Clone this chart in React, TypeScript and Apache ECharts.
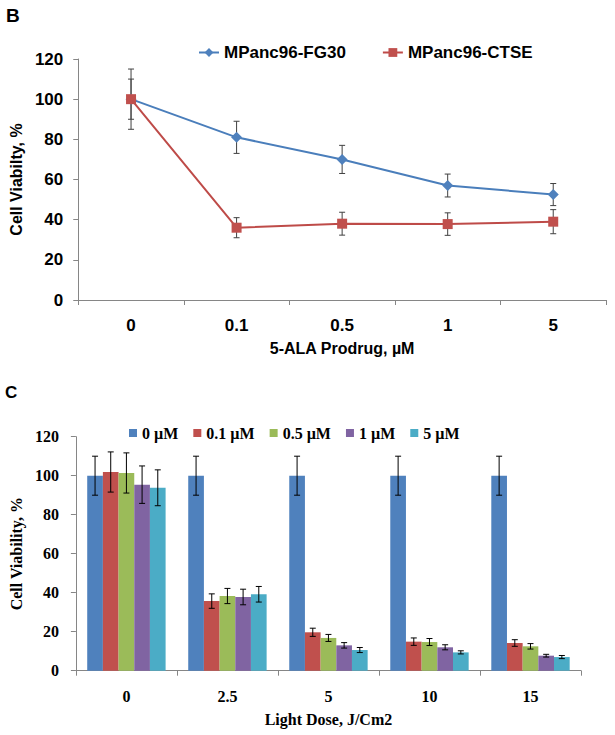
import React, { useEffect, useRef } from "react";
import * as echarts from "echarts";

// Panel B
const doseB = ["0", "0.1", "0.5", "1", "5"];
const fg30 = [100, 81, 70, 57, 52.5];
const fg30Err = [15, 8, 7, 5.7, 5.5];
const ctse = [100, 36, 38, 37.8, 39];
const ctseErr = [10, 5, 5.7, 5.6, 6];

// Panel C
const lightDose = ["0", "2.5", "5", "10", "15"];
const seriesC = ["0 µM", "0.1 µM", "0.5 µM", "1 µM", "5 µM"];
const c0 = [100, 100, 100, 100, 100];
const c0Err = [10, 10, 10, 10, 10];
const c01 = [101.9, 35.7, 19.7, 14.9, 14.2];
const c01Err = [10.3, 3.7, 2.1, 1.9, 1.7];
const c05 = [101.4, 38.3, 16.8, 14.7, 12.5];
const c05Err = [10.3, 3.9, 1.8, 1.8, 1.4];
const c1 = [95.4, 37.8, 13, 12, 7.7];
const c1Err = [9.6, 4, 1.4, 1.3, 0.7];
const c5 = [93.8, 39.2, 10.6, 9.4, 7.0];
const c5Err = [9.2, 4, 1.3, 0.8, 0.8];

const colorsC = ["#4F81BD", "#C0504D", "#9BBB59", "#8064A2", "#4BACC6"];
const valuesC = [c0, c01, c05, c1, c5];
const errorsC = [c0Err, c01Err, c05Err, c1Err, c5Err];

const SANS = "'Liberation Sans', Arial, sans-serif";
const SERIF = "'Liberation Serif', 'Times New Roman', serif";
const AXIS_GRAY = "#868686";
const BAR_CAT_GAP = 0.224;

function errSeriesB(vals: number[], errs: number[], color: string) {
  return {
    type: "custom",
    xAxisIndex: 0,
    yAxisIndex: 0,
    z: 1,
    silent: true,
    data: vals.map((v, i) => [i, v, errs[i]]),
    encode: { x: 0, y: 1 },
    renderItem: (params: any, api: any) => {
      const i = api.value(0);
      const v = api.value(1);
      const e = api.value(2);
      const top = api.coord([i, v + e]);
      const bot = api.coord([i, v - e]);
      const cw = 3;
      const st = { stroke: color, lineWidth: 1 };
      return {
        type: "group",
        children: [
          { type: "line", shape: { x1: top[0], y1: top[1], x2: bot[0], y2: bot[1] }, style: st },
          { type: "line", shape: { x1: top[0] - cw, y1: top[1], x2: top[0] + cw, y2: top[1] }, style: st },
          { type: "line", shape: { x1: bot[0] - cw, y1: bot[1], x2: bot[0] + cw, y2: bot[1] }, style: st },
        ],
      };
    },
  };
}

function errSeriesC(k: number) {
  const vals = valuesC[k];
  const errs = errorsC[k];
  return {
    type: "custom",
    xAxisIndex: 1,
    yAxisIndex: 1,
    z: 5,
    silent: true,
    data: vals.map((v, i) => [i, v, errs[i]]),
    encode: { x: 0, y: 1 },
    renderItem: (params: any, api: any) => {
      const i = api.value(0);
      const v = api.value(1);
      const e = api.value(2);
      const band = api.size([1, 0])[0];
      const bw = (band * (1 - BAR_CAT_GAP)) / 5;
      const off = (k - 2) * bw;
      const top = api.coord([i, v + e]);
      const bot = api.coord([i, v - e]);
      const x = top[0] + off;
      const cw = 3;
      const st = { stroke: "#000", lineWidth: 1 };
      return {
        type: "group",
        children: [
          { type: "line", shape: { x1: x, y1: top[1], x2: x, y2: bot[1] }, style: st },
          { type: "line", shape: { x1: x - cw, y1: top[1], x2: x + cw, y2: top[1] }, style: st },
          { type: "line", shape: { x1: x - cw, y1: bot[1], x2: x + cw, y2: bot[1] }, style: st },
        ],
      };
    },
  };
}

export default function App() {
  const ref = useRef<HTMLDivElement>(null);
  useEffect(() => {
    if (!ref.current) return;
    const chart = echarts.init(ref.current, null, { renderer: "svg" });
    const option: any = {
      animation: false,
      backgroundColor: "#ffffff",
      graphic: [
        { type: "text", left: 6, top: 6, style: { text: "B", font: `bold 19px ${SANS}`, fill: "#000" } },
        { type: "text", left: 5, top: 384, style: { text: "C", font: `bold 17px ${SANS}`, fill: "#000" } },
      ],
      legend: [
        {
          data: ["MPanc96-FG30", "MPanc96-CTSE"],
          left: 198,
          top: 44,
          padding: 0,
          itemWidth: 20,
          itemHeight: 11,
          itemGap: 36,
          textStyle: { fontFamily: SANS, fontWeight: "bold", fontSize: 17, color: "#000" },
        },
        {
          data: seriesC,
          left: 129,
          top: 425,
          padding: 0,
          icon: "rect",
          itemWidth: 8,
          itemHeight: 8,
          itemGap: 15,
          textStyle: { fontFamily: SERIF, fontWeight: "bold", fontSize: 16, color: "#000" },
        },
      ],
      grid: [
        { left: 77, right: 9, top: 59, bottom: 435, containLabel: false },
        { left: 72, right: 34, top: 436.7, bottom: 64.3, containLabel: false },
      ],
      xAxis: [
        {
          type: "category",
          gridIndex: 0,
          data: doseB,
          boundaryGap: true,
          axisLine: { lineStyle: { color: AXIS_GRAY, width: 1 } },
          axisTick: { show: true, length: 5, lineStyle: { color: AXIS_GRAY } },
          axisLabel: { margin: 17, fontFamily: SANS, fontWeight: "bold", fontSize: 17, color: "#000" },
          name: "5-ALA Prodrug, µM",
          nameLocation: "middle",
          nameGap: 40,
          nameTextStyle: { fontFamily: SANS, fontWeight: "bold", fontSize: 16, color: "#000" },
        },
        {
          type: "category",
          gridIndex: 1,
          data: lightDose,
          boundaryGap: true,
          axisLine: { lineStyle: { color: AXIS_GRAY, width: 1 } },
          axisTick: { show: true, length: 5, lineStyle: { color: AXIS_GRAY } },
          axisLabel: { margin: 18, fontFamily: SERIF, fontWeight: "bold", fontSize: 16, color: "#000" },
          name: "Light Dose, J/Cm2",
          nameLocation: "middle",
          nameGap: 41,
          nameTextStyle: { fontFamily: SERIF, fontWeight: "bold", fontSize: 16, color: "#000" },
        },
      ],
      yAxis: [
        {
          type: "value",
          gridIndex: 0,
          min: 0,
          max: 120,
          interval: 20,
          splitLine: { show: false },
          axisLine: { show: true, lineStyle: { color: AXIS_GRAY, width: 1 } },
          axisTick: { show: true, length: 5, lineStyle: { color: AXIS_GRAY } },
          axisLabel: { margin: 15, fontFamily: SANS, fontWeight: "bold", fontSize: 17, color: "#000" },
          name: "Cell Viabilty, %",
          nameLocation: "middle",
          nameGap: 52,
          nameTextStyle: { fontFamily: SANS, fontWeight: "bold", fontSize: 16, color: "#000" },
        },
        {
          type: "value",
          gridIndex: 1,
          min: 0,
          max: 120,
          interval: 20,
          splitLine: { show: false },
          axisLine: { show: true, lineStyle: { color: AXIS_GRAY, width: 1 } },
          axisTick: { show: true, length: 5, lineStyle: { color: AXIS_GRAY } },
          axisLabel: { margin: 17, fontFamily: SERIF, fontWeight: "bold", fontSize: 16, color: "#000" },
          name: "Cell Viability, %",
          nameLocation: "middle",
          nameGap: 48,
          nameTextStyle: { fontFamily: SERIF, fontWeight: "bold", fontSize: 16, color: "#000" },
        },
      ],
      series: [
        errSeriesB(fg30, fg30Err, "#404040"),
        errSeriesB(ctse, ctseErr, "#404040"),
        {
          name: "MPanc96-FG30",
          type: "line",
          xAxisIndex: 0,
          yAxisIndex: 0,
          z: 3,
          data: fg30,
          symbol: "diamond",
          symbolSize: 11,
          lineStyle: { color: "#4A7EBB", width: 2 },
          itemStyle: { color: "#4F81BD" },
        },
        {
          name: "MPanc96-CTSE",
          type: "line",
          xAxisIndex: 0,
          yAxisIndex: 0,
          z: 4,
          data: ctse,
          symbol: "rect",
          symbolSize: 10,
          lineStyle: { color: "#BE4B48", width: 2 },
          itemStyle: { color: "#C0504D" },
        },
        ...seriesC.map((name, k) => ({
          name,
          type: "bar",
          xAxisIndex: 1,
          yAxisIndex: 1,
          data: valuesC[k],
          barGap: "0%",
          barCategoryGap: `${BAR_CAT_GAP * 100}%`,
          itemStyle: { color: colorsC[k] },
        })),
        ...seriesC.map((_, k) => errSeriesC(k)),
      ],
    };
    chart.setOption(option);
    return () => chart.dispose();
  }, []);
  return (
    <div
      ref={ref}
      style={{ position: "fixed", left: 0, top: 0, width: 615, height: 735, background: "#fff" }}
    />
  );
}
